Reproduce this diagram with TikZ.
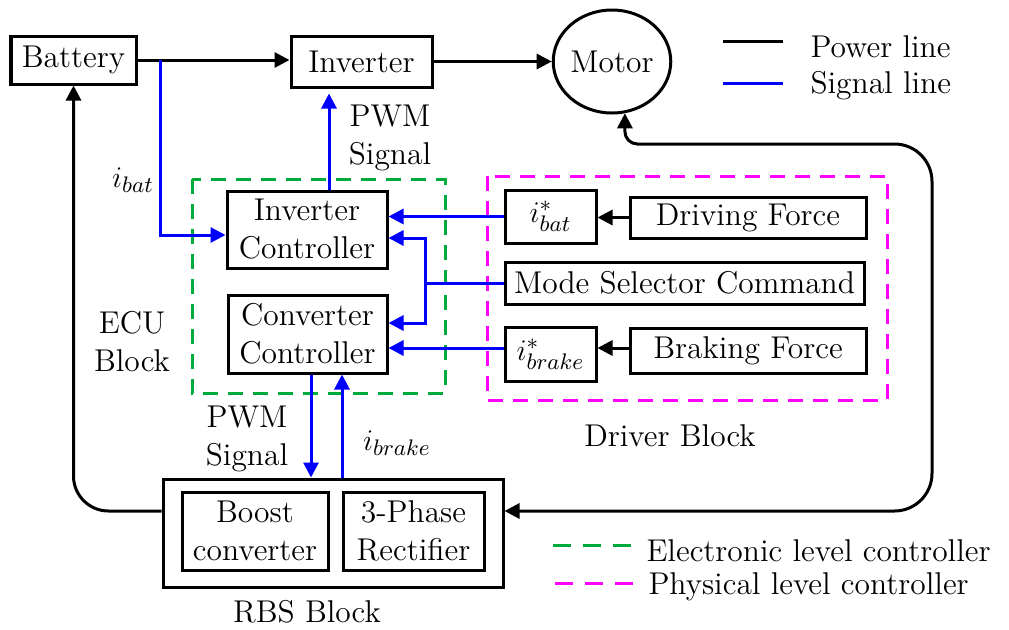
\documentclass[tikz,border=0pt]{standalone}
\usepackage{fontspec}
\usetikzlibrary{shapes.geometric,arrows.meta,calc}

\tikzset{
  blk/.style 2 args={draw, line width=1.2pt, inner sep=0pt, align=center,
    minimum width=#1*0.4pt, minimum height=#2*0.4pt},
  pow/.style={line width=1.2pt, black},
  sig/.style={line width=1.2pt, blue},
  tip/.style={-{Triangle[length=6pt,width=6pt]}},
  bitip/.style={{Triangle[length=6pt,width=6pt]}-{Triangle[length=6pt,width=6pt]}},
  grp/.style={line width=1.2pt, dash pattern=on 6pt off 4pt},
  lbl/.style={align=center, inner sep=0pt},
}
\definecolor{ecugreen}{RGB}{0,170,60}
\definecolor{drvpink}{RGB}{255,0,255}

\begin{document}
\begin{tikzpicture}[x=0.4pt,y=-0.4pt,font=\fontsize{12.6}{15.2}\selectfont]
\useasboundingbox (0,0) rectangle (1009,629);

% group frames
\draw[grp, ecugreen] (192,179) rectangle (445,393);
\draw[grp, drvpink] (487,176) rectangle (887,400);

% power path blocks
\node[blk={125}{48}] (bat) at (73.5,60) {Battery};
\node[blk={141}{51}] (inv) at (361.5,61.5) {Inverter};
\node[draw, line width=1.2pt, ellipse, minimum width=110*0.4pt, minimum height=103*0.4pt, inner sep=0pt] (mot) at (612,61.5) {Motor};

% ECU block
\node[blk={160}{77}] (ic) at (307,229.5) {Inverter\\Controller};
\node[blk={159}{78}] (cc) at (307.5,334) {Converter\\Controller};

% driver block
\node[blk={91}{53}] (ibs) at (550.5,216.5) {$i^*_{bat}$};
\node[blk={236}{41}] (df) at (748,217.5) {Driving Force};
\node[blk={359}{42}] (msc) at (684.5,283) {Mode Selector Command};
\node[blk={91}{54}] (ibk) at (550.5,354) {$i^*_{brake}$};
\node[blk={236}{45}] (bf) at (748,350.5) {Braking Force};

% RBS block
\node[blk={340}{108}] (rbs) at (333,533) {};
\node[blk={146}{78}] (bst) at (255,531) {Boost\\converter};
\node[blk={141}{78}] (rect) at (413.5,531) {3-Phase\\Rectifier};

% power connections
\draw[pow,tip] (bat.east) -- (bat.east -| inv.west);
\draw[pow,tip] (inv.east) -- (inv.east -| mot.west);
\coordinate (rbsL) at ($(rbs.west)+(0,-22)$);
\coordinate (rbsR) at ($(rbs.east)+(0,-22)$);
\draw[pow,tip,rounded corners=14pt] (rbsL) -| (bat.south);
\coordinate (motB) at (mot.-76);
\draw[pow,bitip,rounded corners=15pt] (rbsR) -- (932,511) -- (932,144)
  [rounded corners=5pt] -- (motB |- 0,144) -- (motB);

% signal connections
\coordinate (brn) at (160,0 |- bat.east);
\coordinate (icin) at ($(ic.west)+(0,5.5)$);
\draw[sig,tip] (brn) |- (icin);
\coordinate (pwmU) at ($(ic.north)+(22,0)$);
\draw[sig,tip] (pwmU) -- ([yshift=-2pt]pwmU |- inv.south);
\draw[sig,tip] (ibs.west) -- (ibs.west -| ic.east);
\coordinate (mj) at (425,0 |- msc.west);
\draw[sig] (msc.west) -- (mj);
\draw[sig,tip] (mj) |- ($(ic.east)+(0,8.5)$);
\draw[sig,tip] (mj) |- ($(cc.east)+(0,-11)$);
\coordinate (cc2) at ($(cc.east)+(0,14)$);
\draw[sig,tip] (cc2 -| ibk.west) -- (cc2);
\coordinate (pwmD) at ($(cc.south)+(3.5,0)$);
\draw[sig,tip] (pwmD) -- (pwmD |- rbs.north);
\coordinate (ibU) at ($(cc.south)+(34.5,0)$);
\draw[sig,tip] (ibU |- rbs.north) -- (ibU);

% driver demands
\draw[pow,tip] (df.west) -- (df.west -| ibs.east);
\coordinate (bfl) at ($(bf.west)+(0,-2.5)$);
\draw[pow,tip] (bfl) -- (bfl -| ibk.east);

% labels
\node[lbl] (pwm1) at (390,138) {PWM\\Signal};
\node[lbl] (ibat) at (133,180) {$i_{bat}$};
\node[lbl] (ecu) at (132,342) {ECU\\Block};
\node[lbl] (pwm2) at (247,439) {PWM\\Signal};
\node[lbl] (ibrk) at (397,443) {$i_{brake}$};
\node[lbl] (rbsl) at (307,612) {RBS Block};
\node[lbl] (drvl) at (670,436) {Driver Block};

% legend
\coordinate (lp1) at (723,41);
\coordinate (lp2) at (783,41);
\draw[pow] (lp1) -- (lp2);
\node[lbl, anchor=west] (lpt) at (810,47) {Power line};
\coordinate (ls1) at (723,83);
\coordinate (ls2) at (783,83);
\draw[sig] (ls1) -- (ls2);
\node[lbl, anchor=west] (lst) at (810,86) {Signal line};
\coordinate (le1) at (553,545);
\coordinate (le2) at (636,545);
\draw[grp, ecugreen, dash pattern=on 7pt off 5pt] (le1) -- (le2);
\node[lbl, anchor=west] (let) at (646,551) {Electronic level controller};
\coordinate (lf1) at (555,583);
\coordinate (lf2) at (638,583);
\draw[grp, drvpink, dash pattern=on 7pt off 5pt] (lf1) -- (lf2);
\node[lbl, anchor=west] (lft) at (648,587) {Physical level controller};
\end{tikzpicture}
\end{document}
